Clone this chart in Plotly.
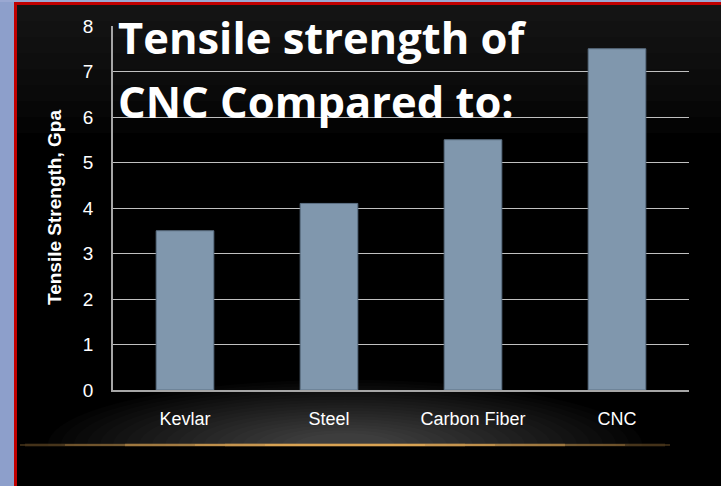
import plotly.graph_objects as go

categories = ["Kevlar", "Steel", "Carbon Fiber", "CNC"]
strength_gpa = [3.5, 4.1, 5.5, 7.5]
y_ticks = [0, 1, 2, 3, 4, 5, 6, 7, 8]
title_lines = ["Tensile strength of", "CNC Compared to:"]
y_title = "Tensile Strength, Gpa"

W, H = 721, 486
L, R, T, B = 113, 32, 26, 96
PW, PH = W - L - R, H - T - B

def px(x):
    return (x - L) / PW

def py(y):
    return (H - B - y) / PH

sans = "Liberation Sans, Arial, sans-serif"

fig = go.Figure()
fig.add_trace(go.Bar(
    x=categories, y=strength_gpa,
    marker=dict(color="#8097ad", line=dict(color="#5d7185", width=1)),
    width=0.4, hoverinfo="x+y",
))

shapes = []
# background gradient inside dark area (top lighter)
for i in range(8):
    shapes.append(dict(type="rect", xref="paper", yref="paper", layer="below",
                       x0=px(17), x1=px(W), y0=py(5 + (8 - i) * 16), y1=py(5),
                       fillcolor="rgba(40,40,40,0.1)", line=dict(width=0)))
# bottom glow (gray haze), centered on the horizon line
cx, cy = 345, 445
for i in range(20):
    rx = 50 + i * 13
    ry = 12 + i * 2.8
    shapes.append(dict(type="circle", xref="paper", yref="paper", layer="below",
                       x0=px(cx - rx), x1=px(cx + rx), y0=py(cy + ry), y1=py(cy - ry),
                       fillcolor="rgba(255,255,255,0.016)", line=dict(width=0)))
shapes.append(dict(type="rect", xref="paper", yref="paper", layer="below",
                   x0=px(17), x1=px(W), y0=py(H), y1=py(446),
                   fillcolor="black", line=dict(width=0)))
# orange horizon line
for hw, op, lw in [(320, 0.08, 4), (220, 0.1, 4), (120, 0.12, 4),
                   (325, 0.3, 1.5), (280, 0.3, 1.5), (220, 0.35, 1.5), (150, 0.45, 1.5), (80, 0.55, 1.5)]:
    shapes.append(dict(type="line", xref="paper", yref="paper", layer="below",
                       x0=px(cx - hw), x1=px(cx + hw), y0=py(cy), y1=py(cy),
                       line=dict(color=f"rgba(240,180,90,{op})", width=lw)))
# left blue strip, top strip and red border
shapes.append(dict(type="rect", xref="paper", yref="paper", layer="below",
                   x0=px(0), x1=px(14), y0=py(H), y1=py(0),
                   fillcolor="#8d9fcb", line=dict(width=0)))
shapes.append(dict(type="rect", xref="paper", yref="paper", layer="below",
                   x0=px(0), x1=px(W), y0=py(2), y1=py(0),
                   fillcolor="#9aa8d2", line=dict(width=0)))
shapes.append(dict(type="rect", xref="paper", yref="paper", layer="below",
                   x0=px(14), x1=px(17), y0=py(H), y1=py(2),
                   fillcolor="#c00000", line=dict(width=0)))
shapes.append(dict(type="rect", xref="paper", yref="paper", layer="below",
                   x0=px(14), x1=px(W), y0=py(5), y1=py(2),
                   fillcolor="#c00000", line=dict(width=0)))

annotations = []
for i, line in enumerate(title_lines):
    annotations.append(dict(text=f"<b>{line}</b>", xref="paper", yref="paper",
                            x=px(116), y=py(37 + i * 64), xanchor="left", yanchor="middle",
                            showarrow=False,
                            font=dict(family="Open Sans, sans-serif", size=43.5, color="white")))
annotations.append(dict(text=f"<b>{y_title}</b>", xref="paper", yref="paper",
                        x=px(54), y=0.5, xanchor="center", yanchor="middle", textangle=-90,
                        showarrow=False, font=dict(family=sans, size=19, color="white")))

fig.update_layout(
    width=W, height=H,
    margin=dict(l=L, r=R, t=T, b=B, pad=0),
    paper_bgcolor="black", plot_bgcolor="rgba(0,0,0,0)",
    showlegend=False,
    bargap=0.6,
    shapes=shapes,
    annotations=annotations,
    xaxis=dict(showgrid=False, showline=True, linecolor="#a6a6a6", linewidth=1.5,
               ticks="", tickfont=dict(family=sans, size=18, color="white"),
               ticklabelstandoff=12, automargin=False, fixedrange=True),
    yaxis=dict(range=[0, 8], tickvals=y_ticks, showgrid=True, gridcolor="#c0c0c0", gridwidth=1.2,
               zeroline=False, showline=True, linecolor="#a6a6a6", linewidth=1.5,
               ticks="", tickfont=dict(family=sans, size=19, color="white"),
               ticklabelstandoff=14, automargin=False, fixedrange=True),
)

fig.write_html("out.html", config={"displayModeBar": False},
               post_script="document.body.style.margin='0';document.body.style.background='black';")
